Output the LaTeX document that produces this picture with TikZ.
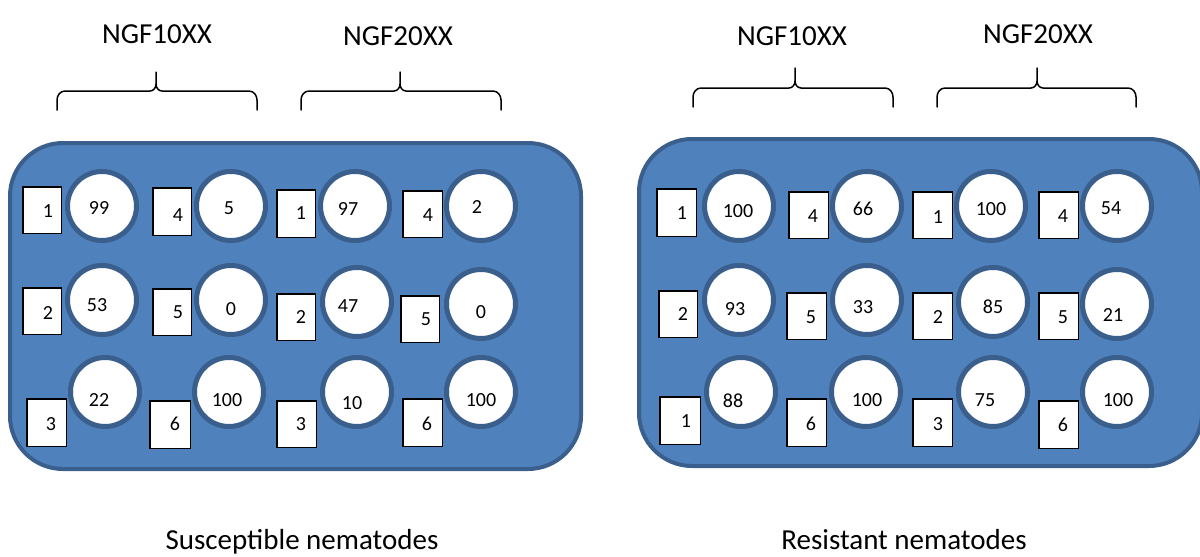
\documentclass[tikz,border=0pt]{standalone}
\usepackage{fontspec}
\setmainfont{Carlito}
\definecolor{panelfill}{HTML}{4F81BD}
\definecolor{paneledge}{HTML}{3A5F8C}
\tikzset{
  panel/.style={fill=panelfill, draw=paneledge, line width=4pt, rounded corners=53pt},
  well/.style={circle, fill=white, draw=paneledge, line width=5pt, minimum size=69pt, inner sep=0pt},
  sqbox/.style={rectangle, fill=white, draw=black, line width=1.5pt, inner sep=0pt},
  numtxt/.style={anchor=base, inner sep=0pt, font=\fontsize{20}{20}\selectfont},
  headtxt/.style={anchor=base, inner sep=0pt, font=\fontsize{29}{29}\selectfont},
  bracestyle/.style={draw=black, line width=1.5pt, line cap=round, line join=round}
}
\begin{document}
\begin{tikzpicture}[x=1pt, y=-1pt]
\useasboundingbox (0,0) rectangle (1200,557);
% panels
\draw[panel] (10,143) rectangle (581,469);
\draw[panel] (639,139) rectangle (1202,466);
% braces
\foreach \xa/\xm/\xb/\yt/\yh/\yb [count=\i] in {57/156/257/72/91/110, 301/400/501/72/91/110, 693/795/893/68/88/107, 937/1037/1136/68/88/107}{
  \coordinate (bl\i) at (\xa,\yb);
  \coordinate (br\i) at (\xb,\yb);
  \coordinate (bt\i) at (\xm,\yt);
  \draw[bracestyle] (bl\i) -- (\xa,\yh+9) to[out=90,in=180] (\xa+8,\yh) -- (\xm-6,\yh)
     to[out=0,in=-90] (\xm,\yh-7) -- (bt\i) -- (\xm,\yh-7) to[out=-90,in=180] (\xm+6,\yh)
     -- (\xb-8,\yh) to[out=0,in=90] (\xb,\yh+9) -- (br\i);
}
% headers
\node[headtxt] (h1) at (157,43) {NGF10XX};
\node[headtxt] (h2) at (398,45) {NGF20XX};
\node[headtxt] (h3) at (792,45) {NGF10XX};
\node[headtxt] (h4) at (1038,43) {NGF20XX};
% bottom labels
\node[headtxt] (l1) at (302,549) {Susceptible nematodes};
\node[headtxt] (l2) at (904,549) {Resistant nematodes};
% wells: square x1/y1/x2/y2/label/tx/ty, circle cx/cy/label/tx/ty
\foreach \xa/\ya/\xb/\yb/\sl/\stx/\sty/\cx/\cy/\cl/\ctx/\cty [count=\i] in {
  22/186/62/234/1/48/211/102/206/99/99/208,
  152/187/192/236/4/178/215/231/206/5/229/208,
  276/189/316/238/1/301/213/355/206/97/348/209,
  402/190/443/238/4/428/215/481/206/2/477/207,
  22/287/62/335/2/48/313/102/300/53/97/305,
  152/288/192/336/5/178/312/231/300/0/231/309,
  276/293/316/341/2/301/317/357/302/47/348/306,
  400/295/440/343/5/426/319/481/304/0/481/312,
  26/398/67/447/3/51/424/105/392/22/99/400,
  149/400/191/449/6/175/424/229/392/100/227/400,
  276/400/317/448/3/301/424/357/392/10/352/403,
  402/398/443/447/6/427/424/481/392/100/481/400,
  656/188/697/237/1/682/213/739/206/100/738/211,
  788/191/829/239/4/813/216/867/206/66/863/209,
  912/191/953/239/1/938/217/991/206/100/991/209,
  1038/191/1079/239/4/1063/216/1117/206/54/1111/208,
  658/290/698/338/2/683/314/739/300/93/735/309,
  786/292/827/340/5/811/317/867/300/33/863/307,
  912/292/953/340/2/938/317/993/302/85/993/307,
  1038/292/1079/340/5/1063/317/1117/304/21/1113/315,
  659/396/701/445/1/686/421/741/392/88/733/401,
  786/398/827/447/6/811/424/866/392/100/867/400,
  912/398/953/447/3/938/424/993/392/75/985/400,
  1038/400/1079/449/6/1063/425/1117/392/100/1118/400}{
  \node[well] (c\i) at (\cx,\cy) {};
  \node[sqbox, minimum width={\xb-\xa-1.5}, minimum height={\yb-\ya-1.5}] (s\i) at ({(\xa+\xb)/2},{(\ya+\yb)/2}) {};
  \node[numtxt] (st\i) at (\stx,\sty+6.3) {\sl};
  \node[numtxt] (ct\i) at (\ctx,\cty+6.3) {\cl};
}
\end{tikzpicture}
\end{document}
